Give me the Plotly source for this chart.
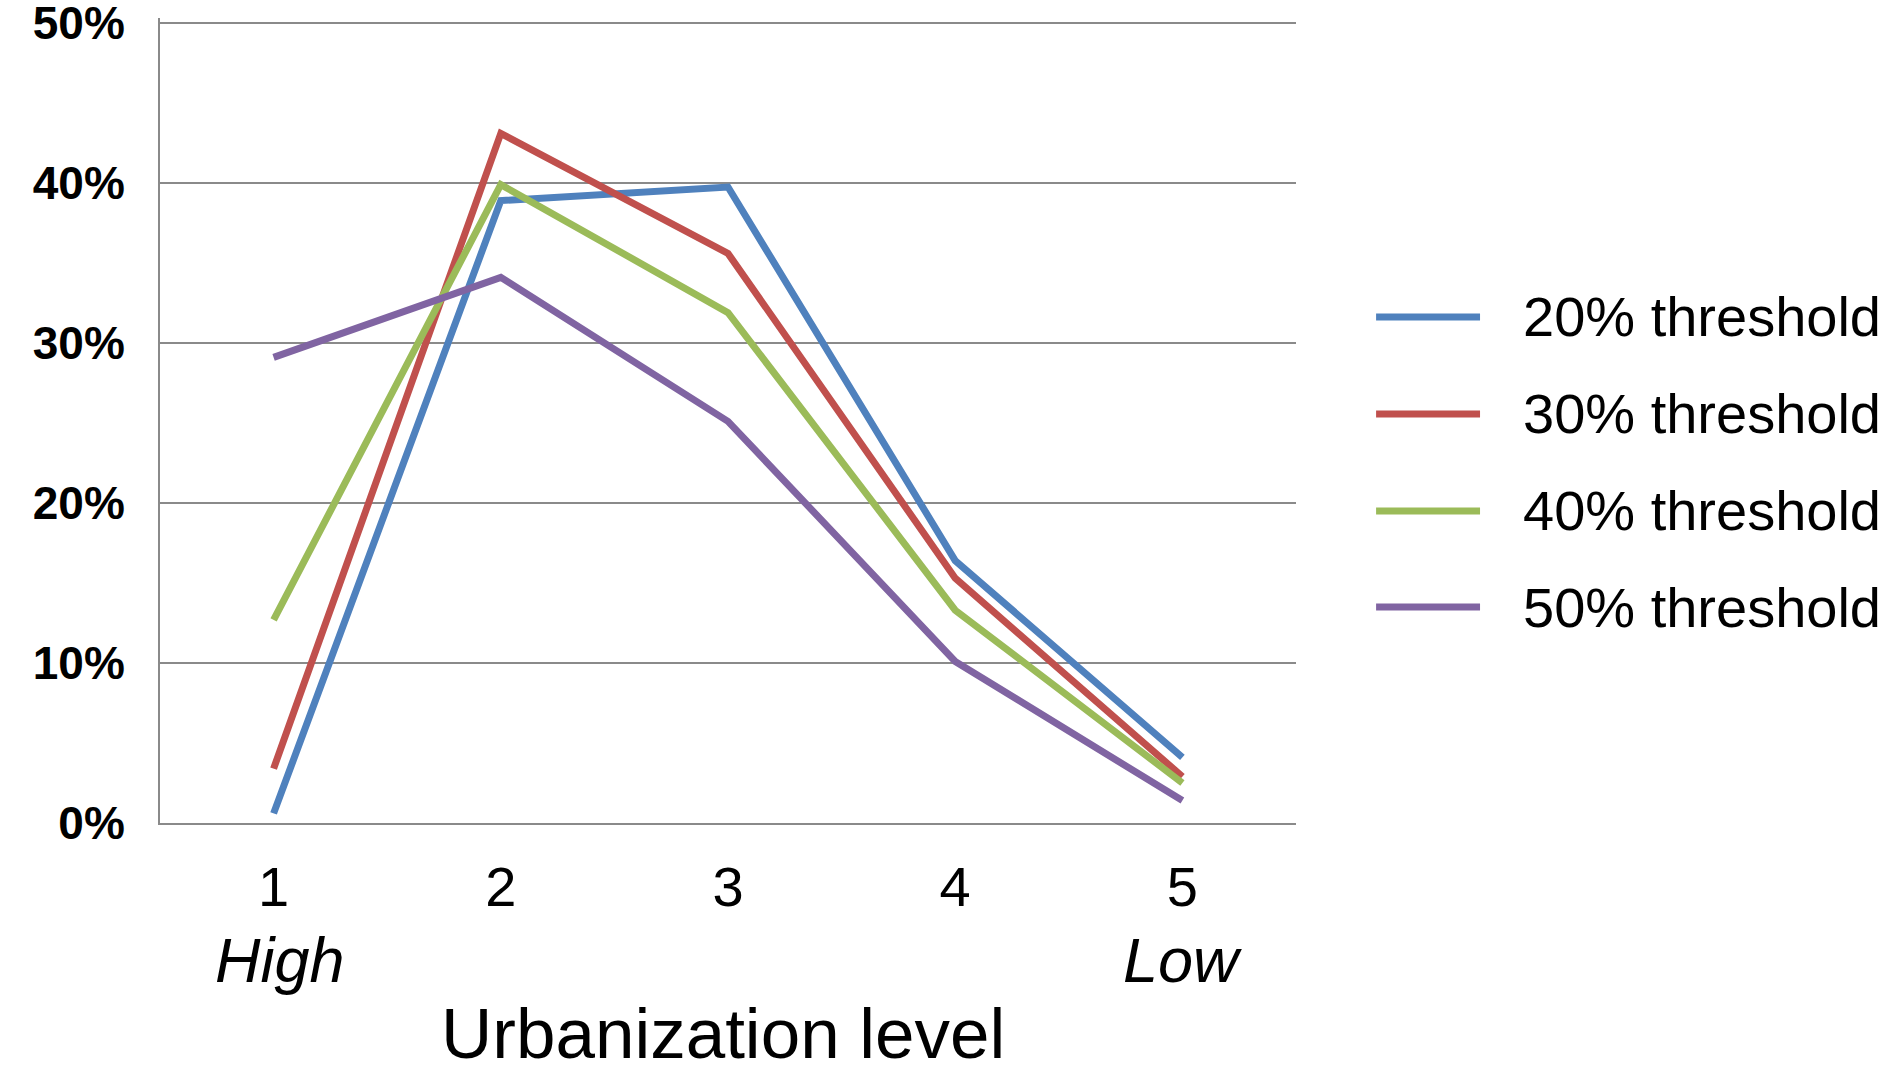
import plotly.graph_objects as go

# Urbanization level categories (1 = highest, 5 = lowest)
levels = [1, 2, 3, 4, 5]
level_labels = ["1", "2", "3", "4", "5"]

# Share (%) per urbanization level for each threshold
threshold_20 = [0.6, 38.9, 39.75, 16.4, 4.1]
threshold_30 = [3.4, 43.1, 35.6, 15.3, 2.9]
threshold_40 = [12.7, 39.9, 31.9, 13.3, 2.5]
threshold_50 = [29.1, 34.1, 25.1, 10.1, 1.4]

series_names = ["20% threshold", "30% threshold", "40% threshold", "50% threshold"]
series_values = [threshold_20, threshold_30, threshold_40, threshold_50]
series_colors = ["#4F81BD", "#C0504D", "#9BBB59", "#8064A2"]

y_ticks = [0, 10, 20, 30, 40, 50]

FONT = "Liberation Sans, Arial, sans-serif"
GRID = "#8a8a8a"

fig = go.Figure()
for name, vals, col in zip(series_names, series_values, series_colors):
    fig.add_trace(go.Scatter(
        x=levels, y=vals, mode="lines", name=name,
        line=dict(color=col, width=7),
        showlegend=False,
    ))

# Hand-built legend on the right: long line swatch plus label
legend_rows = [0.6286, 0.5081, 0.3876, 0.2683]
for name, col, yy in zip(series_names, series_colors, legend_rows):
    fig.add_shape(type="line", xref="paper", yref="paper",
                  x0=1.0705, x1=1.162, y0=yy, y1=yy,
                  line=dict(color=col, width=7))
    fig.add_annotation(xref="paper", yref="paper", x=1.198, y=yy,
                       text=name, showarrow=False, xanchor="left",
                       yanchor="middle",
                       font=dict(family=FONT, size=56, color="#000"))

# End labels under the x axis
fig.add_annotation(xref="x", yref="paper", x=1, y=-0.1702, xshift=6,
                   text="<i>High</i>", showarrow=False,
                   xanchor="center", yanchor="middle",
                   font=dict(family=FONT, size=63, color="#000"))
fig.add_annotation(xref="x", yref="paper", x=5, y=-0.1702,
                   text="<i>Low</i>", showarrow=False,
                   xanchor="center", yanchor="middle",
                   font=dict(family=FONT, size=63, color="#000"))

# Axis title
fig.add_annotation(xref="paper", yref="paper", x=0.4955, y=-0.262,
                   text="Urbanization level", showarrow=False,
                   xanchor="center", yanchor="middle",
                   font=dict(family=FONT, size=71, color="#000"))

fig.update_layout(
    width=1895, height=1073,
    margin=dict(l=160, r=599, t=18, b=250),
    paper_bgcolor="white", plot_bgcolor="white",
    font=dict(family=FONT, color="#000"),
)
fig.update_xaxes(
    range=[0.5, 5.5], tickvals=levels, ticktext=level_labels,
    tickfont=dict(family=FONT, size=56, color="#000"),
    showgrid=False, zeroline=False,
    showline=True, linecolor=GRID, linewidth=2,
    ticks="", ticklabelstandoff=14, automargin=False,
)
fig.update_yaxes(
    range=[0, 50.3125], tickvals=y_ticks,
    ticktext=[f"<b>{v}%</b>" for v in y_ticks],
    tickfont=dict(family=FONT, size=46, color="#000"),
    showgrid=True, gridcolor=GRID, gridwidth=2,
    zeroline=False,
    showline=True, linecolor=GRID, linewidth=2,
    ticks="", ticklabelstandoff=24,
    ticklabeloverflow="allow", automargin=False,
)

fig.write_html("out.html")
